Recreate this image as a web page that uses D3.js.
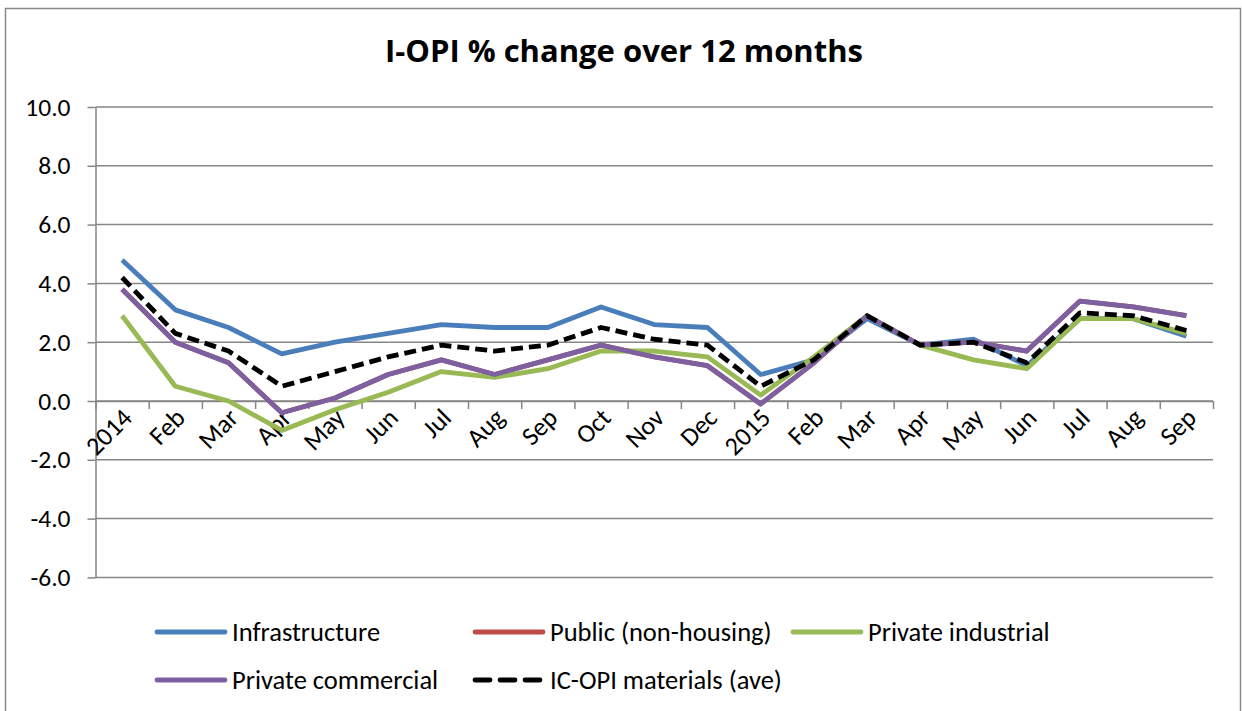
<!DOCTYPE html>
<html>
<head>
<meta charset="utf-8">
<script src="https://cdn.jsdelivr.net/npm/d3@7"></script>
<style>
  body { margin: 0; background: #fff; }
  svg { display: block; }
  text { font-family: Carlito, Calibri, Lato, sans-serif; fill: #000; }
</style>
</head>
<body>
<script>
var months = ["2014","Feb","Mar","Apr","May","Jun","Jul","Aug","Sep","Oct","Nov","Dec",
              "2015","Feb","Mar","Apr","May","Jun","Jul","Aug","Sep"];

var infrastructure = [4.8,3.1,2.5,1.6,2.0,2.3,2.6,2.5,2.5,3.2,2.6,2.5,0.9,1.4,2.8,1.9,2.1,1.2,2.8,2.8,2.2];
var publicNonHousing = [3.8,2.0,1.3,-0.4,0.1,0.9,1.4,0.9,1.4,1.9,1.5,1.2,-0.1,1.3,2.9,1.9,2.0,1.7,3.4,3.2,2.9];
var privateIndustrial = [2.9,0.5,0.0,-1.0,-0.3,0.3,1.0,0.8,1.1,1.7,1.7,1.5,0.2,1.5,2.9,1.9,1.4,1.1,2.8,2.8,2.3];
var privateCommercial = [3.8,2.0,1.3,-0.4,0.1,0.9,1.4,0.9,1.4,1.9,1.5,1.2,-0.1,1.3,2.9,1.9,2.0,1.7,3.4,3.2,2.9];
var icOpiAve = [4.2,2.3,1.7,0.5,1.0,1.5,1.9,1.7,1.9,2.5,2.1,1.9,0.5,1.4,2.9,1.9,2.0,1.3,3.0,2.9,2.4];

var yTicks = [-6,-4,-2,0,2,4,6,8,10];

var series = [
  {name: "Infrastructure", values: infrastructure, color: "#4a7ebb", dash: null},
  {name: "Public (non-housing)", values: publicNonHousing, color: "#be4b48", dash: null},
  {name: "Private industrial", values: privateIndustrial, color: "#98b954", dash: null},
  {name: "Private commercial", values: privateCommercial, color: "#7d60a0", dash: null},
  {name: "IC-OPI materials (ave)", values: icOpiAve, color: "#000", dash: "12,6"}
];

const WIDTH = 1242;
const HEIGHT = 711;
const LEFT = 95.5, RIGHT = 1213, TOP = 107, BOTTOM = 577.4;

var translate = function(x, y){
  return "translate(" + x + "," + y + ")";
};

var svg = d3.select("body").append("svg")
  .attr("width", WIDTH)
  .attr("height", HEIGHT);

// outer chart frame
svg.append("rect")
  .attr("x", 5.5).attr("y", 8.5)
  .attr("width", 1235).attr("height", 720)
  .attr("fill", "none").attr("stroke", "#898989").attr("stroke-width", 1.5);

svg.append("text")
  .attr("x", 624).attr("y", 62)
  .attr("text-anchor", "middle")
  .style("font-family", "'Open Sans', sans-serif")
  .style("font-weight", "bold")
  .style("font-size", "31px")
  .text("I-OPI % change over 12 months");

var xBand = d3.scaleBand().domain(d3.range(months.length)).range([LEFT, RIGHT]);
var xEdge = d3.scaleLinear().domain([0, months.length]).range([LEFT, RIGHT]);
var yScale = d3.scaleLinear().domain([-6, 10]).range([BOTTOM, TOP]);

// gridlines
svg.append("g")
  .selectAll("line")
  .data(yTicks)
  .enter().append("line")
  .attr("x1", LEFT).attr("x2", RIGHT)
  .attr("y1", function(d){ return yScale(d); })
  .attr("y2", function(d){ return yScale(d); })
  .attr("stroke", "#868686").attr("stroke-width", 1.5);

// y axis
var yAxis = d3.axisLeft(yScale)
  .tickValues(yTicks)
  .tickSize(8)
  .tickSizeOuter(0)
  .tickPadding(17)
  .tickFormat(function(d){ return d.toFixed(1); });

var gy = svg.append("g").attr("transform", translate(LEFT, 0)).call(yAxis);
gy.select(".domain").attr("stroke", "#868686").attr("stroke-width", 1.5);
gy.selectAll(".tick line").attr("stroke", "#868686").attr("stroke-width", 1.5);
gy.selectAll("text").style("font-size", "25.5px").attr("fill", "#000");

// x axis ticks at category edges, crossing at 0
var gxTicks = svg.append("g")
  .attr("transform", translate(0, yScale(0)))
  .call(d3.axisBottom(xEdge).tickValues(d3.range(months.length + 1)).tickSize(8).tickSizeOuter(0).tickFormat(""));
gxTicks.select(".domain").attr("stroke", "#868686").attr("stroke-width", 1.5);
gxTicks.selectAll(".tick line").attr("stroke", "#868686").attr("stroke-width", 1.5);

// x axis labels
var gx = svg.append("g")
  .attr("transform", translate(0, yScale(0)))
  .call(d3.axisBottom(xBand).tickSize(0).tickFormat(function(i){ return months[i]; }));
gx.select(".domain").remove();
gx.selectAll("text")
  .style("font-size", "26px")
  .attr("fill", "#000")
  .attr("text-anchor", "end")
  .attr("x", 0).attr("y", 0).attr("dy", "0.35em")
  .attr("transform", "translate(5,12) rotate(-45)");

// lines
var line = d3.line()
  .x(function(d, i){ return xBand(i) + xBand.bandwidth() / 2; })
  .y(function(d){ return yScale(d); });

svg.append("g")
  .selectAll("path")
  .data(series)
  .enter().append("path")
  .attr("d", function(s){ return line(s.values); })
  .attr("fill", "none")
  .attr("stroke", function(s){ return s.color; })
  .attr("stroke-width", 4.8)
  .attr("stroke-linejoin", "round")
  .attr("stroke-dasharray", function(s){ return s.dash; });

// legend
var legendPos = [[157, 632], [475, 632], [793, 632], [157, 680], [475, 680]];
var legend = svg.append("g")
  .selectAll("g")
  .data(series)
  .enter().append("g")
  .attr("transform", function(s, i){ return translate(legendPos[i][0], legendPos[i][1]); });

legend.append("line")
  .attr("x1", 0).attr("x2", 68)
  .attr("stroke", function(s){ return s.color; })
  .attr("stroke-width", 4.8)
  .attr("stroke-linecap", "round")
  .attr("stroke-dasharray", function(s){ return s.dash ? "15,10" : null; });

legend.append("text")
  .attr("x", 75).attr("dy", "0.35em")
  .style("font-size", "26.5px")
  .text(function(s){ return s.name; });
</script>
</body>
</html>
